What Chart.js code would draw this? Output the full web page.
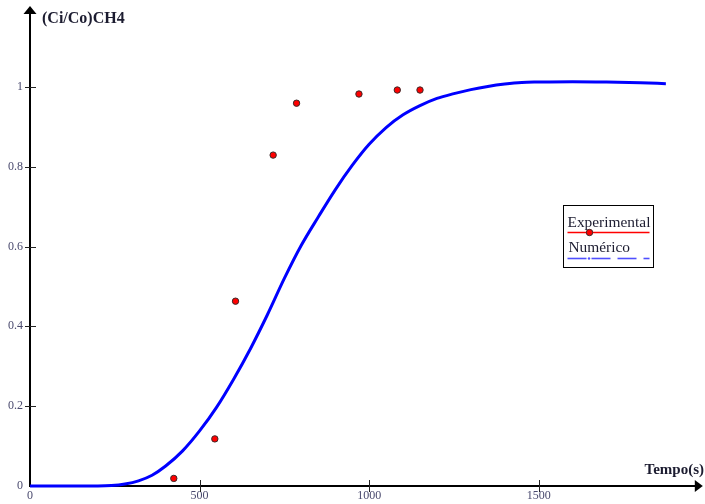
<!DOCTYPE html>
<html>
<head>
<meta charset="utf-8">
<title>(Ci/Co)CH4</title>
<script src="https://cdn.jsdelivr.net/npm/chart.js@4.4.1/dist/chart.umd.min.js"></script>
<style>
  html, body { margin: 0; padding: 0; background: #ffffff; }
  #wrap { width: 705px; height: 504px; position: relative; }
</style>
</head>
<body>
<div id="wrap"><canvas id="c" width="705" height="504"></canvas></div>
<script>
// Experimental breakthrough points
const tempoExp = [424, 545, 606, 717, 786, 970, 1083, 1150];
const ciCoExp  = [0.019, 0.118, 0.463, 0.829, 0.959, 0.982, 0.992, 0.992];

// Numerical model curve
const tempoNum = [0, 100, 200, 240, 280, 320, 360, 400, 450, 500, 550, 600, 650, 700, 750,
                  800, 850, 900, 950, 1000, 1050, 1100, 1150, 1200, 1250, 1300, 1350, 1400,
                  1450, 1500, 1600, 1700, 1800, 1875];
const ciCoNum  = [0, 0, 0, 0.001, 0.005, 0.013, 0.027, 0.05, 0.088, 0.138, 0.197, 0.267, 0.344,
                  0.429, 0.52, 0.603, 0.674, 0.742, 0.803, 0.856, 0.898, 0.930, 0.953, 0.971,
                  0.983, 0.993, 1.001, 1.007, 1.011, 1.012, 1.013, 1.012, 1.010, 1.008];

// Axis ticks and labels
const xTicks = [0, 500, 1000, 1500];
const yTicks = [0, 0.2, 0.4, 0.6, 0.8, 1];
const yTitle = '(Ci/Co)CH4';
const xTitle = 'Tempo(s)';
const seriesNames = ['Experimental', 'Numérico'];

const SERIF = "'Liberation Serif', 'Times New Roman', serif";
const LABEL_COLOR = '#4a4a6e';
const TEXT_COLOR = '#1c1c30';

// Axes with arrowheads and ticks crossing the axis lines
const axesPlugin = {
  id: 'arrowAxes',
  beforeDatasetsDraw(chart) {
    const { ctx, scales } = chart;
    const xs = scales.x, ys = scales.y;
    const x0 = xs.getPixelForValue(0);
    const y0 = ys.getPixelForValue(0);
    const yTop = ys.getPixelForValue(ys.max);
    const xEnd = xs.getPixelForValue(xs.max);
    ctx.save();
    ctx.strokeStyle = '#000000';
    ctx.fillStyle = '#000000';
    ctx.lineWidth = 2;
    // x axis
    ctx.beginPath();
    ctx.moveTo(x0, y0);
    ctx.lineTo(xEnd - 4, y0);
    ctx.stroke();
    ctx.beginPath();
    ctx.moveTo(xEnd + 2, y0);
    ctx.lineTo(xEnd - 6, y0 - 6);
    ctx.lineTo(xEnd - 6, y0 + 6);
    ctx.closePath();
    ctx.fill();
    // y axis
    ctx.beginPath();
    ctx.moveTo(x0, y0 + 1);
    ctx.lineTo(x0, yTop + 4);
    ctx.stroke();
    ctx.beginPath();
    ctx.moveTo(x0, yTop - 1);
    ctx.lineTo(x0 - 6.5, yTop + 7);
    ctx.lineTo(x0 + 6.5, yTop + 7);
    ctx.closePath();
    ctx.fill();
    // tick marks
    ctx.lineWidth = 1;
    ctx.strokeStyle = '#222222';
    xTicks.forEach(v => {
      if (v === 0) return;
      const px = Math.round(xs.getPixelForValue(v)) + 0.5;
      ctx.beginPath();
      ctx.moveTo(px, y0 - 6);
      ctx.lineTo(px, y0 + 6);
      ctx.stroke();
    });
    yTicks.forEach(v => {
      if (v === 0) return;
      const py = Math.round(ys.getPixelForValue(v)) + 0.5;
      ctx.beginPath();
      ctx.moveTo(x0 - 5, py);
      ctx.lineTo(x0 + 6, py);
      ctx.stroke();
    });
    ctx.restore();
  },
  afterDraw(chart) {
    const { ctx } = chart;
    ctx.save();
    ctx.fillStyle = TEXT_COLOR;
    ctx.textBaseline = 'alphabetic';
    ctx.textAlign = 'left';
    ctx.font = 'bold 16px ' + SERIF;
    ctx.fillText(yTitle, 42, 23);
    ctx.textAlign = 'right';
    ctx.font = 'bold 15px ' + SERIF;
    ctx.fillText(xTitle, 704, 474);
    ctx.restore();
  }
};

// Boxed legend with line samples
const legendPlugin = {
  id: 'boxLegend',
  afterDraw(chart) {
    const { ctx } = chart;
    const exp = chart.data.datasets[0];
    const num = chart.data.datasets[1];
    const bx = 563.5, by = 205.5, bw = 90, bh = 62;
    ctx.save();
    ctx.fillStyle = '#ffffff';
    ctx.fillRect(bx, by, bw, bh);
    ctx.strokeStyle = '#000000';
    ctx.lineWidth = 1;
    ctx.strokeRect(bx, by, bw, bh);

    ctx.fillStyle = TEXT_COLOR;
    ctx.font = '15.4px ' + SERIF;
    ctx.textAlign = 'left';
    ctx.textBaseline = 'alphabetic';
    ctx.fillText(exp.label, 567.5, 227);
    ctx.fillText(num.label, 568.5, 252);

    // experimental sample: red line with a marker
    ctx.strokeStyle = exp.pointBackgroundColor;
    ctx.lineWidth = 1.5;
    ctx.beginPath();
    ctx.moveTo(567.5, 232.5);
    ctx.lineTo(649.5, 232.5);
    ctx.stroke();
    ctx.beginPath();
    ctx.arc(589.5, 232.5, 3.2, 0, Math.PI * 2);
    ctx.fillStyle = exp.pointBackgroundColor;
    ctx.fill();
    ctx.strokeStyle = exp.pointBorderColor;
    ctx.lineWidth = 1;
    ctx.stroke();

    // numerical sample: dash-dot blue line
    ctx.strokeStyle = '#4f4fff';
    ctx.lineWidth = 1.6;
    const segs = [[567.5, 586.5], [591.5, 610.5], [617.5, 636.5], [643.5, 649.5]];
    segs.forEach(s => {
      ctx.beginPath();
      ctx.moveTo(s[0], 258.5);
      ctx.lineTo(s[1], 258.5);
      ctx.stroke();
    });
    ctx.fillStyle = '#4f4fff';
    ctx.beginPath();
    ctx.arc(589, 258.5, 1.2, 0, Math.PI * 2);
    ctx.fill();
    ctx.restore();
  }
};

const expPoints = tempoExp.map((t, i) => ({ x: t, y: ciCoExp[i] }));
const numPoints = tempoNum.map((t, i) => ({ x: t, y: ciCoNum[i] }));

new Chart(document.getElementById('c'), {
  type: 'scatter',
  data: {
    datasets: [
      {
        label: seriesNames[0],
        data: expPoints,
        showLine: false,
        pointRadius: 3.2,
        pointHoverRadius: 3.2,
        pointBackgroundColor: '#ff0000',
        pointBorderColor: '#3a2a2a',
        pointBorderWidth: 1,
        clip: false
      },
      {
        label: seriesNames[1],
        data: numPoints,
        showLine: true,
        borderColor: '#0000ff',
        borderWidth: 3,
        pointRadius: 0,
        pointHoverRadius: 0,
        cubicInterpolationMode: 'monotone',
        fill: false,
        clip: false
      }
    ]
  },
  options: {
    responsive: false,
    animation: false,
    events: [],
    layout: { padding: { top: 7, right: 2, left: 0, bottom: 0 } },
    plugins: {
      legend: { display: false },
      tooltip: { enabled: false },
      title: { display: false }
    },
    scales: {
      x: {
        type: 'linear',
        min: 0,
        max: 1978,
        afterBuildTicks(scale) { scale.ticks = xTicks.map(v => ({ value: v })); },
        afterFit(scale) {
          scale.height = 18;
          scale.paddingLeft = 0;
          scale.paddingRight = 0;
        },
        grid: { display: false, drawTicks: false },
        border: { display: false },
        ticks: {
          padding: 3,
          maxRotation: 0,
          autoSkip: false,
          color: LABEL_COLOR,
          font: { family: SERIF, size: 12 },
          callback: v => String(v)
        }
      },
      y: {
        type: 'linear',
        min: 0,
        max: 1.2,
        afterBuildTicks(scale) { scale.ticks = yTicks.map(v => ({ value: v })); },
        afterFit(scale) {
          scale.width = 30;
          scale.paddingTop = 0;
          scale.paddingBottom = 0;
        },
        grid: { display: false, drawTicks: false },
        border: { display: false },
        ticks: {
          padding: 7,
          autoSkip: false,
          color: LABEL_COLOR,
          font: { family: SERIF, size: 12 },
          callback: v => String(v)
        }
      }
    }
  },
  plugins: [axesPlugin, legendPlugin]
});
</script>
</body>
</html>
